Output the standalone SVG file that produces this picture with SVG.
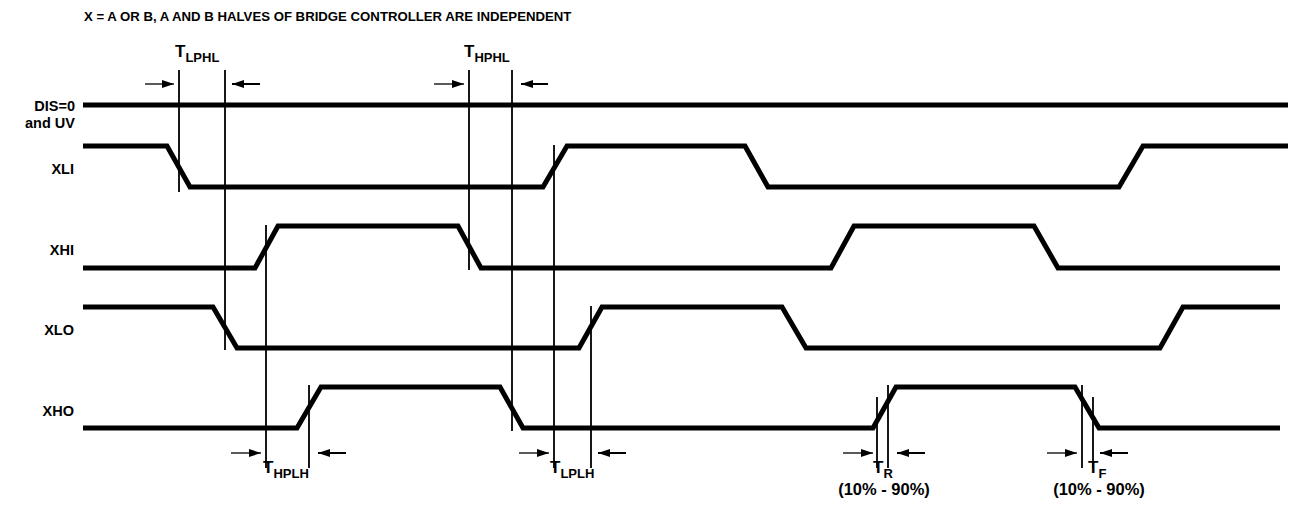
<svg xmlns="http://www.w3.org/2000/svg" width="1294" height="522" viewBox="0 0 1294 522">
<defs>
<style>
text{font-family:"Liberation Sans",Arial,sans-serif;font-weight:bold;fill:#000}
.title{font-size:13.2px}
.lbl{font-size:14.5px;text-anchor:end}
.t{font-size:17px}
.sub{font-size:13px}
.pct{font-size:16.5px;text-anchor:middle}
.wave{fill:none;stroke:#000;stroke-width:5;stroke-linejoin:miter;stroke-linecap:butt}
.mark{stroke:#000;stroke-width:1.8;fill:none}
.arrR{stroke:#000;stroke-width:1.3;fill:none;marker-end:url(#ah)}
.arrL{stroke:#000;stroke-width:2;fill:none;marker-end:url(#ah)}
</style>
<marker id="ah" viewBox="0 0 12 8" refX="12" refY="4" markerWidth="12" markerHeight="8" markerUnits="userSpaceOnUse" orient="auto">
<path d="M0,0 L12,4 L0,8 Z" fill="#000"/>
</marker>
</defs>
<rect width="1294" height="522" fill="#fff"/>
<text class="title" x="84" y="21">X = A OR B, A AND B HALVES OF BRIDGE CONTROLLER ARE INDEPENDENT</text>

<g id="sig-dis">
<text class="lbl" x="75" y="111">DIS=0</text>
<text class="lbl" x="75" y="128">and UV</text>
<path class="wave" d="M83,105 H1288"/>
</g>
<g id="sig-xli">
<text class="lbl" x="74" y="174">XLI</text>
<path class="wave" d="M83,146 H167 L190,187 H543 L567,146 H745 L768,187 H1119 L1143,146 H1288"/>
</g>
<g id="sig-xhi">
<text class="lbl" x="74" y="255">XHI</text>
<path class="wave" d="M83,268 H255 L278,226 H458 L481,268 H831 L854,226 H1034 L1058,268 H1280"/>
</g>
<g id="sig-xlo">
<text class="lbl" x="74" y="335">XLO</text>
<path class="wave" d="M83,307 H213 L237,348 H579 L602,307 H782 L806,348 H1160 L1183,307 H1280"/>
</g>
<g id="sig-xho">
<text class="lbl" x="74" y="416">XHO</text>
<path class="wave" d="M83,428 H297 L321,387 H500 L523,428 H873 L896,387 H1075 L1099,428 H1280"/>
</g>

<g id="connectors">
<g id="t-lphl">
<path class="mark" d="M179,70 V192 M225,70 V350"/>
<path class="arrR" d="M145,84 H174"/>
<path class="arrL" d="M260,84 H232"/>
</g>
<g id="t-hphl">
<path class="mark" d="M469,70 V270 M512,70 V431"/>
<path class="arrR" d="M434,84 H464"/>
<path class="arrL" d="M548,84 H521"/>
</g>
<g id="t-hplh">
<path class="mark" d="M266,225 V468 M309,385 V468"/>
<path class="arrR" d="M231,453 H261"/>
<path class="arrL" d="M346,453 H318"/>
</g>
<g id="t-lplh">
<path class="mark" d="M554,145 V468 M591,306 V468"/>
<path class="arrR" d="M519,453 H549"/>
<path class="arrL" d="M626,453 H598"/>
</g>
<g id="t-r">
<path class="mark" d="M877,397 V468 M888,385 V468"/>
<path class="arrR" d="M843,453 H873"/>
<path class="arrL" d="M925,453 H897"/>
</g>
<g id="t-f">
<path class="mark" d="M1082,385 V468 M1093,397 V468"/>
<path class="arrR" d="M1047,453 H1077"/>
<path class="arrL" d="M1128,453 H1100"/>
</g>
</g>

<g id="labels">
<text class="t" x="175" y="57">T<tspan class="sub" dy="5">LPHL</tspan></text>
<text class="t" x="464" y="57">T<tspan class="sub" dy="5">HPHL</tspan></text>
<text class="t" x="263" y="473">T<tspan class="sub" dy="5">HPLH</tspan></text>
<text class="t" x="550" y="473">T<tspan class="sub" dy="5">LPLH</tspan></text>
<text class="t" x="873" y="473">T<tspan class="sub" dy="5">R</tspan></text>
<text class="t" x="1088" y="473">T<tspan class="sub" dy="5">F</tspan></text>
<text class="pct" x="884" y="495">(10% - 90%)</text>
<text class="pct" x="1099" y="495">(10% - 90%)</text>
</g>
</svg>
